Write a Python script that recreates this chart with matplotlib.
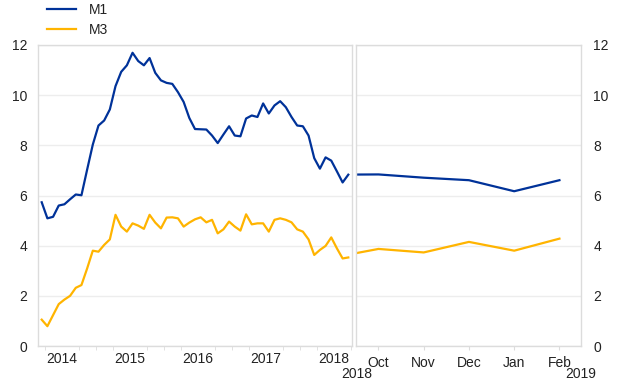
import numpy as np
import matplotlib
matplotlib.use("Agg")
import matplotlib.pyplot as plt
from matplotlib.lines import Line2D

# left panel: monthly, Mar 2014 - Sep 2018
m1_hist = [5.73, 5.09, 5.15, 5.60, 5.65, 5.85, 6.04, 6.01, 7.03, 8.03,
           8.79, 8.99, 9.43, 10.36, 10.93, 11.19, 11.69, 11.36, 11.19, 11.48,
           10.89, 10.59, 10.49, 10.45, 10.12, 9.73, 9.09, 8.65, 8.64, 8.63,
           8.39, 8.09, 8.43, 8.76, 8.39, 8.36, 9.07, 9.19, 9.13, 9.67,
           9.27, 9.59, 9.76, 9.52, 9.13, 8.79, 8.76, 8.39, 7.49, 7.07,
           7.52, 7.39, 6.96, 6.52, 6.83]
m3_hist = [1.05, 0.79, 1.23, 1.67, 1.85, 2.00, 2.32, 2.43, 3.09, 3.80,
           3.76, 4.03, 4.25, 5.23, 4.76, 4.56, 4.89, 4.80, 4.67, 5.23,
           4.92, 4.69, 5.12, 5.13, 5.09, 4.76, 4.92, 5.05, 5.13, 4.93,
           5.03, 4.49, 4.65, 4.96, 4.76, 4.60, 5.25, 4.85, 4.89, 4.89,
           4.56, 5.03, 5.09, 5.03, 4.93, 4.65, 4.56, 4.25, 3.63, 3.83,
           3.99, 4.33, 3.89, 3.49, 3.53]
hist_start = "2014-03"
years = [2014, 2015, 2016, 2017, 2018]

# right panel: Sep 2018 - Feb 2019
recent_months = ["Sep", "Oct", "Nov", "Dec", "Jan", "Feb"]
m1_recent = [6.83, 6.84, 6.71, 6.61, 6.17, 6.61]
m3_recent = [3.53, 3.87, 3.73, 4.15, 3.80, 4.28]

BLUE = "#003299"
YELLOW = "#FFB400"
GRID = "#ededed"
EDGE = "#dcdcdc"
TXT = "#222222"

plt.rcParams["font.family"] = ["Liberation Sans", "DejaVu Sans"]
plt.rcParams["font.size"] = 10

fig = plt.figure(figsize=(6.2, 3.87), dpi=100)
ax1 = fig.add_axes([38.3 / 620, 1 - 346 / 387, 313.4 / 620, 301 / 387])
ax2 = fig.add_axes([356.3 / 620, 1 - 346 / 387, 224.4 / 620, 301 / 387])

months = np.arange(len(m1_hist))
ax1.plot(months, m1_hist, color=BLUE, lw=1.6)
ax1.plot(months, m3_hist, color=YELLOW, lw=1.6)
ax1.set_xlim(-0.6, len(m1_hist) - 1 + 0.6)

# month index of January of each year (series starts in March)
start_year, start_month = map(int, hist_start.split("-"))
jan_idx = [(y - start_year) * 12 - (start_month - 1) for y in years]
ax1.set_xticks([j + 5.5 for j in jan_idx])
ax1.set_xticklabels([str(y) for y in years])
qb = [q - 0.5 for q in range(-2, len(m1_hist) + 1, 3) if -0.6 < q - 0.5 < len(m1_hist)]
ax1.set_xticks(qb, minor=True)

xr = np.arange(len(recent_months)) - 1
ax2.plot(xr, m1_recent, color=BLUE, lw=1.6)
ax2.plot(xr, m3_recent, color=YELLOW, lw=1.6)
ax2.set_xlim(-0.49, 4.47)
ax2.set_xticks(xr[1:])
ax2.set_xticklabels(recent_months[1:])
ax2.annotate("2018", xy=(0, 0), xycoords="axes fraction", xytext=(0, -20),
             textcoords="offset points", ha="center", va="center", color=TXT)
ax2.annotate("2019", xy=(1, 0), xycoords="axes fraction", xytext=(0, -20),
             textcoords="offset points", ha="center", va="center", color=TXT)

for ax in (ax1, ax2):
    ax.set_ylim(0, 12)
    ax.set_yticks(range(0, 13, 2))
    ax.grid(axis="y", color=GRID, lw=1)
    ax.set_axisbelow(True)
    for s in ax.spines.values():
        s.set_color(EDGE)
        s.set_linewidth(1)
    ax.tick_params(axis="x", which="major", length=0, pad=4, colors=TXT)
    ax.tick_params(axis="x", which="minor", length=3, color=EDGE, direction="out")
    ax.tick_params(axis="y", length=0, colors=TXT)

ax1.tick_params(axis="y", pad=8)
ax2.yaxis.tick_right()
ax2.tick_params(axis="y", pad=9, labelleft=False, labelright=True)
ax2.tick_params(axis="x", which="major", length=3, color=EDGE, direction="out")

handles = [Line2D([], [], color=BLUE, lw=1.6), Line2D([], [], color=YELLOW, lw=1.6)]
fig.legend(handles, ["M1", "M3"], loc="upper left",
           bbox_to_anchor=(47 / 620, 1 - 3 / 387), frameon=False,
           borderpad=0, borderaxespad=0, handlelength=2.1, handletextpad=0.95,
           labelspacing=0.45, labelcolor=TXT)

fig.savefig("out.png", dpi=100)
